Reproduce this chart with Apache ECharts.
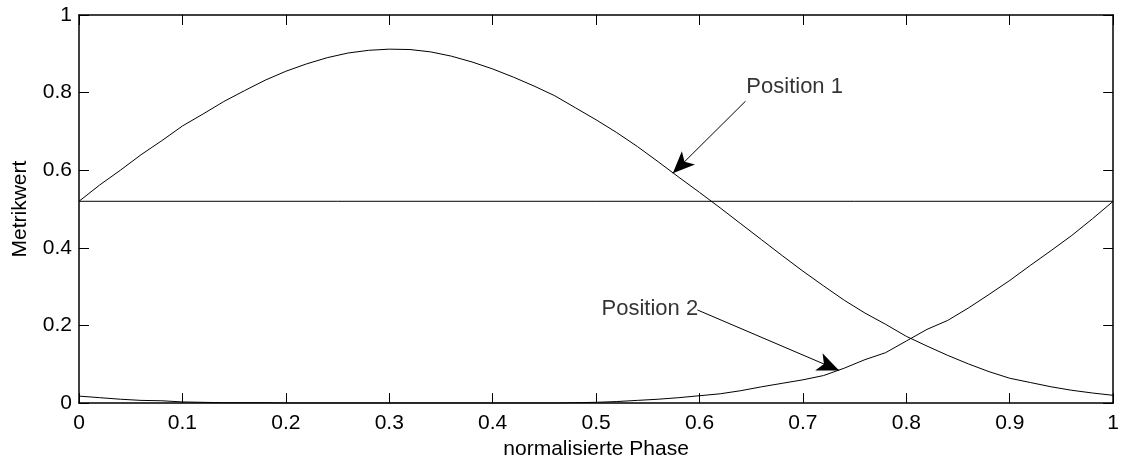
<!DOCTYPE html>
<html>
<head>
<meta charset="utf-8">
<script src="https://cdn.jsdelivr.net/npm/echarts@6/dist/echarts.min.js"></script>
<style>html,body{margin:0;padding:0;background:#fff}#c{width:1122px;height:465px}</style>
</head>
<body>
<div id="c"></div>
<script>
// normalized phase samples
const phase = [0.00,0.02,0.04,0.06,0.08,0.10,0.12,0.14,0.16,0.18,0.20,0.22,0.24,0.26,0.28,0.30,0.32,0.34,0.36,0.38,0.40,0.42,0.44,0.46,0.48,0.50,0.52,0.54,0.56,0.58,0.60,0.62,0.64,0.66,0.68,0.70,0.72,0.74,0.76,0.78,0.80,0.82,0.84,0.86,0.88,0.90,0.92,0.94,0.96,0.98,1.00];
const position1 = [0.520,0.562,0.600,0.640,0.676,0.714,0.745,0.777,0.805,0.832,0.855,0.874,0.890,0.902,0.909,0.912,0.911,0.905,0.894,0.879,0.861,0.840,0.817,0.792,0.761,0.730,0.697,0.661,0.622,0.582,0.543,0.503,0.462,0.421,0.380,0.340,0.302,0.265,0.232,0.203,0.172,0.147,0.123,0.101,0.081,0.064,0.053,0.042,0.033,0.026,0.020];
const position2 = [0.018,0.014,0.010,0.007,0.006,0.003,0.002,0.001,0.001,0.001,0.000,0.000,0.000,0.000,0.000,0.000,0.000,0.000,0.000,0.000,0.000,0.000,0.000,0.000,0.001,0.002,0.004,0.007,0.010,0.014,0.019,0.024,0.032,0.042,0.051,0.060,0.071,0.090,0.112,0.130,0.160,0.190,0.213,0.245,0.280,0.316,0.355,0.393,0.432,0.475,0.520];
const thresholdX = [0, 1];
const thresholdY = [0.52, 0.52];
const xTicks = [0,0.1,0.2,0.3,0.4,0.5,0.6,0.7,0.8,0.9,1];
const yTicks = [0,0.2,0.4,0.6,0.8,1];
const labelTexts = ['Position 1', 'Position 2'];
const labelAt = [[0.692, 0.814], [0.552, 0.243]];
const arrowFrom = [[0.6445, 0.778], [0.598, 0.240]];
const arrowTo = [[0.5742, 0.592], [0.735, 0.084]];

const zip = (xs, ys) => xs.map((x, i) => [x, ys[i]]);
const font = 'Liberation Sans, Arial, sans-serif';
const axisCommon = {
  type: 'value', min: 0, max: 1, interval: 0.1,
  axisLine: {show: true, onZero: false, lineStyle: {color: '#000', width: 1.5}},
  axisTick: {show: true, inside: true, length: 10, lineStyle: {color: '#000', width: 1}},
  splitLine: {show: false}
};
const chart = echarts.init(document.getElementById('c'), null, {renderer: 'canvas'});
chart.setOption({
  animation: false,
  backgroundColor: '#fff',
  grid: {left: 79, right: 5, top: 15, bottom: 58, containLabel: false},
  xAxis: [
    Object.assign({}, axisCommon, {
      position: 'bottom', name: 'normalisierte Phase', nameLocation: 'middle', nameGap: 35,
      nameTextStyle: {fontFamily: font, fontSize: 21, color: '#000'},
      axisLabel: {show: true, margin: 10, fontFamily: font, fontSize: 21, color: '#000',
        formatter: v => xTicks.some(t => Math.abs(t - v) < 1e-9) ? String(+v.toFixed(1)) : ''}
    }),
    Object.assign({}, axisCommon, {position: 'top', axisLabel: {show: false}})
  ],
  yAxis: [
    Object.assign({}, axisCommon, {
      interval: 0.2, position: 'left', name: 'Metrikwert', nameLocation: 'middle', nameGap: 48,
      nameTextStyle: {fontFamily: font, fontSize: 21, color: '#000'},
      axisLabel: {show: true, margin: 7, fontFamily: font, fontSize: 21, color: '#000',
        formatter: v => yTicks.some(t => Math.abs(t - v) < 1e-9) ? String(+v.toFixed(1)) : ''}
    }),
    Object.assign({}, axisCommon, {interval: 0.2, position: 'right', axisLabel: {show: false}})
  ],
  series: [
    {type: 'line', name: 'Position 1', data: zip(phase, position1), symbol: 'none', smooth: false,
      lineStyle: {color: '#000', width: 1}},
    {type: 'line', name: 'Position 2', data: zip(phase, position2), symbol: 'none', smooth: false,
      lineStyle: {color: '#000', width: 1}},
    {type: 'line', name: 'Schwelle', data: zip(thresholdX, thresholdY), symbol: 'none',
      lineStyle: {color: '#000', width: 1},
      markLine: {
        silent: true, symbol: ['none', 'arrow'], symbolSize: [14, 22],
        label: {show: false},
        lineStyle: {color: '#000', width: 1, type: 'solid'},
        data: arrowFrom.map((f, i) => [{coord: f}, {coord: arrowTo[i]}])
      }},
    {type: 'scatter', name: 'labels', symbolSize: 0, silent: true,
      data: labelAt.map((p, i) => [p[0], p[1], labelTexts[i]]),
      label: {show: true, position: 'inside', formatter: p => p.value[2],
        fontFamily: font, fontSize: 22, color: '#000'}}
  ]
});
</script>
</body>
</html>
